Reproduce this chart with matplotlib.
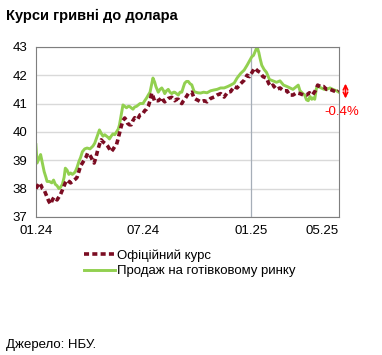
import matplotlib.pyplot as plt
import pandas as pd

plt.rcParams['font.family'] = ['Liberation Sans', 'DejaVu Sans']

# days since 2024-01-01 (UAH per USD)
cash_days = [0, 2, 5, 8, 11, 14, 17, 19, 23, 27, 30, 33, 36, 39, 42, 45, 48, 50, 53, 56,
             59, 62, 65, 67, 70, 73, 76, 79, 83, 87, 92, 97, 100, 103, 106, 108, 111, 114,
             117, 120, 123, 125, 128, 131, 134, 137, 140, 142, 145, 148, 151, 154, 157,
             159, 162, 165, 168, 171, 174, 177, 182, 185, 188, 191, 194, 197, 199, 202,
             204, 208, 211, 214, 217, 219, 222, 225, 228, 231, 234, 236, 239, 242, 245,
             248, 251, 253, 256, 259, 262, 265, 269, 272, 275, 280, 285, 291, 297, 303,
             308, 314, 320, 326, 331, 337, 342, 348, 354, 359, 363, 367, 370, 373, 376,
             379, 381, 384, 388, 392, 397, 403, 409, 415, 421, 427, 432, 437, 443, 446,
             449, 454, 457, 460, 463, 466, 469, 471, 474, 477, 480, 485, 490, 494, 500,
             505, 511, 515]
cash_rate = [39.55, 38.9, 39.05, 39.2, 38.9, 38.6, 38.4, 38.25, 38.25, 38.2, 38.3, 38.15,
             38.1, 38.0, 38.05, 38.15, 38.4, 38.72, 38.65, 38.5, 38.55, 38.5, 38.55, 38.6,
             38.75, 38.95, 39.1, 39.3, 39.4, 39.43, 39.4, 39.5, 39.6, 39.78, 39.95, 40.07,
             39.95, 39.85, 39.9, 39.85, 39.8, 39.75, 39.85, 39.93, 39.9, 40.0, 40.1, 40.24,
             40.6, 40.95, 40.9, 40.85, 40.9, 40.9, 40.85, 40.8, 40.88, 40.9, 40.95, 41.0,
             41.0, 41.1, 41.19, 41.3, 41.4, 41.7, 41.9, 41.75, 41.6, 41.4, 41.5, 41.55,
             41.45, 41.35, 41.45, 41.5, 41.4, 41.35, 41.4, 41.4, 41.35, 41.3, 41.4, 41.4,
             41.6, 41.72, 41.78, 41.78, 41.7, 41.66, 41.42, 41.4, 41.38, 41.37, 41.4, 41.38,
             41.45, 41.48, 41.5, 41.55, 41.55, 41.6, 41.65, 41.72, 41.9, 42.06, 42.18,
             42.35, 42.5, 42.65, 42.7, 42.85, 43.0, 42.8, 42.6, 42.35, 42.2, 42.1, 41.85,
             41.8, 41.75, 41.8, 41.65, 41.6, 41.55, 41.5, 41.6, 41.65, 41.45, 41.35, 41.3,
             41.13, 41.1, 41.25, 41.15, 41.2, 41.15, 41.55, 41.6, 41.55, 41.5, 41.5, 41.55,
             41.5, 41.45, 41.4]

official_days = [0, 3, 6, 9, 11, 14, 16, 19, 22, 25, 28, 31, 33, 36, 39, 42, 45, 48, 50,
                 53, 56, 59, 62, 65, 68, 70, 73, 76, 79, 82, 85, 88, 91, 94, 97, 99, 102,
                 105, 108, 111, 114, 117, 120, 122, 125, 128, 131, 134, 137, 139, 142, 145,
                 148, 151, 154, 156, 159, 162, 165, 168, 171, 173, 177, 180, 182, 185, 188,
                 191, 194, 197, 200, 202, 205, 208, 211, 214, 217, 219, 222, 225, 228, 231,
                 234, 236, 239, 242, 245, 248, 251, 253, 256, 259, 262, 265, 269, 272, 275,
                 280, 286, 291, 297, 303, 308, 314, 320, 326, 331, 337, 342, 348, 354, 359,
                 363, 366, 369, 372, 377, 381, 386, 392, 396, 400, 403, 409, 415, 421, 427,
                 431, 437, 443, 449, 455, 460, 465, 470, 475, 479, 484, 489, 494, 500, 506,
                 512, 515]
official_rate = [38.0, 38.1, 38.2, 38.1, 38.0, 37.95, 37.85, 37.7, 37.55, 37.45, 37.6,
                 37.7, 37.65, 37.6, 37.7, 37.8, 37.95, 38.1, 38.2, 38.3, 38.25, 38.2,
                 38.25, 38.3, 38.35, 38.4, 38.6, 38.8, 38.9, 39.0, 39.1, 39.25, 39.2, 39.1,
                 38.95, 38.9, 39.1, 39.35, 39.55, 39.72, 39.65, 39.6, 39.55, 39.5, 39.4,
                 39.3, 39.38, 39.48, 39.55, 39.7, 39.95, 40.19, 40.4, 40.49, 40.4, 40.3,
                 40.25, 40.25, 40.4, 40.5, 40.45, 40.45, 40.6, 40.62, 40.65, 40.75, 40.8,
                 40.9, 41.1, 41.37, 41.2, 41.07, 41.1, 41.1, 41.15, 41.22, 41.1, 41.06,
                 41.12, 41.18, 41.2, 41.22, 41.15, 41.1, 41.15, 41.15, 41.05, 41.0, 41.1,
                 41.15, 41.25, 41.35, 41.38, 41.4, 41.19, 41.15, 41.12, 41.06, 41.1, 41.06,
                 41.18, 41.23, 41.3, 41.35, 41.23, 41.4, 41.42, 41.6, 41.55, 41.7, 41.82,
                 42.0, 41.95, 42.05, 42.15, 42.25, 42.15, 42.1, 41.95, 41.9, 41.7, 41.6,
                 41.65, 41.5, 41.55, 41.45, 41.45, 41.3, 41.3, 41.38, 41.35, 41.3, 41.3,
                 41.38, 41.3, 41.45, 41.65, 41.6, 41.6, 41.5, 41.5, 41.45, 41.4, 41.45]

start = pd.Timestamp('2024-01-01')
cash_dates = start + pd.to_timedelta(cash_days, unit='D')
official_dates = start + pd.to_timedelta(official_days, unit='D')

tick_dates = pd.to_datetime(['2024-01-01', '2024-07-01', '2025-01-01', '2025-05-01'])
tick_labels = ['01.24', '07.24', '01.25', '05.25']

fig = plt.figure(figsize=(3.82, 3.55), dpi=100)
ax = fig.add_axes([0.094, 0.389, 0.793, 0.479])

ax.plot(official_dates, official_rate, color='#7B0C22', lw=2.6, ls=(0, (1.4, 0.9)),
        label='Офіційний курс', zorder=3)
ax.plot(cash_dates, cash_rate, color='#92D050', lw=2.1,
        label='Продаж на готівковому ринку', zorder=2)

ax.axvline(pd.Timestamp('2025-01-01'), color='#A6AEB8', lw=0.9, zorder=1)

ax.set_ylim(37, 43)
ax.set_yticks(range(37, 44))
ax.set_xlim(start, start + pd.Timedelta(days=515))
ax.set_xticks(tick_dates)
ax.set_xticklabels(tick_labels)
ax.tick_params(length=0, labelsize=9.5, pad=6)
ax.grid(axis='y', color='#D9D9D9', lw=1)
ax.set_axisbelow(True)
for s in ax.spines.values():
    s.set_color('#7F7F7F')

# change annotation
ax.annotate('', xy=(1.022, 0.68), xytext=(1.022, 0.80), xycoords='axes fraction',
            arrowprops=dict(arrowstyle='<->', color='#FF0000', lw=1.2,
                            mutation_scale=8), annotation_clip=False)
ax.text(1.01, 0.615, '-0.4%', transform=ax.transAxes, color='#FF0000',
        fontsize=9.5, ha='center', va='center')

fig.text(0.015, 0.945, 'Курси гривні до долара', fontsize=10.5, fontweight='bold')
fig.legend(loc='upper left', bbox_to_anchor=(0.205, 0.313), frameon=False,
           fontsize=9.5, handlelength=2.4, handletextpad=0.15, labelspacing=0.25,
           borderaxespad=0)
fig.text(0.015, 0.02, 'Джерело: НБУ.', fontsize=9.5)

fig.savefig('out.png', dpi=100)
